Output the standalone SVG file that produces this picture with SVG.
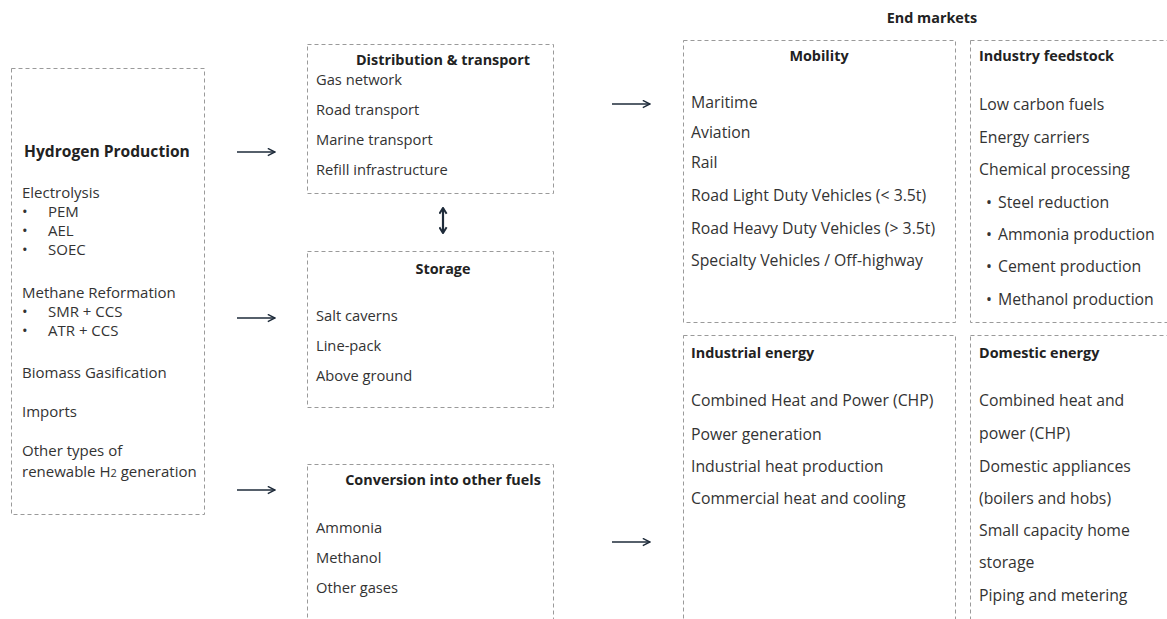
<svg xmlns="http://www.w3.org/2000/svg" width="1167" height="619" viewBox="0 0 1167 619">
<defs>
<style>
.box{fill:none;stroke:#9a9a9a;stroke-width:1;stroke-dasharray:4 3}
text{font-family:"Open Sans","Noto Sans",sans-serif;font-size:14.7px;fill:#333}
.l{font-size:15px}
.r{font-size:15.8px}
.b{font-weight:bold;fill:#222;font-size:14.4px}
.t{font-size:15.6px}
.m{text-anchor:middle}
.c{stroke:#1e2b3a;stroke-width:1.6;fill:none}
.d{stroke:#1e2b3a;stroke-width:2.2;fill:none}
</style>
<marker id="ah" viewBox="0 0 10 10" refX="9" refY="5" markerWidth="9" markerHeight="9" markerUnits="userSpaceOnUse" orient="auto-start-reverse">
<path d="M1,1 L9,5 L1,9" fill="none" stroke="#1e2b3a" stroke-width="1.6"/>
</marker>
<marker id="dh" viewBox="0 0 10 10" refX="8.5" refY="5" markerWidth="9" markerHeight="9" markerUnits="userSpaceOnUse" orient="auto-start-reverse">
<path d="M2,1 L8.5,5 L2,9" fill="none" stroke="#1e2b3a" stroke-width="2.2"/>
</marker>
</defs>
<rect width="1167" height="619" fill="#fff"/>

<g id="production">
<rect class="box" x="11.5" y="68.5" width="193" height="446"/>
<text class="b t" x="24" y="157">Hydrogen Production</text>
<text class="l" x="22" y="198">Electrolysis</text>
<text class="l" x="22" y="217">•</text><text class="l" x="48" y="217">PEM</text>
<text class="l" x="22" y="236">•</text><text class="l" x="48" y="236">AEL</text>
<text class="l" x="22" y="255">•</text><text class="l" x="48" y="255">SOEC</text>
<text class="l" x="22" y="298">Methane Reformation</text>
<text class="l" x="22" y="317">•</text><text class="l" x="48" y="317">SMR + CCS</text>
<text class="l" x="22" y="336">•</text><text class="l" x="48" y="336">ATR + CCS</text>
<text class="l" x="22" y="378">Biomass Gasification</text>
<text class="l" x="22" y="417">Imports</text>
<text class="l" x="22" y="456">Other types of</text>
<text class="l" x="22" y="477">renewable H<tspan font-size="11px">2</tspan> generation</text>
</g>

<g id="distribution">
<rect class="box" x="307.5" y="44.5" width="246" height="149"/>
<text class="b m" x="443" y="65">Distribution &amp; transport</text>
<text x="316" y="85">Gas network</text>
<text x="316" y="115">Road transport</text>
<text x="316" y="145">Marine transport</text>
<text x="316" y="175">Refill infrastructure</text>
</g>

<g id="storage">
<rect class="box" x="307.5" y="251.5" width="246" height="156"/>
<text class="b m" x="443" y="274">Storage</text>
<text x="316" y="321">Salt caverns</text>
<text x="316" y="351">Line-pack</text>
<text x="316" y="381">Above ground</text>
</g>

<g id="conversion">
<rect class="box" x="307.5" y="464.5" width="246" height="170"/>
<text class="b m" x="443" y="485">Conversion into other fuels</text>
<text x="316" y="533">Ammonia</text>
<text x="316" y="563">Methanol</text>
<text x="316" y="593">Other gases</text>
</g>

<g id="end-markets-title">
<text class="b m" x="932" y="23">End markets</text>
</g>

<g id="mobility">
<rect class="box" x="683.5" y="40.5" width="272" height="282"/>
<text class="b m" x="819" y="61">Mobility</text>
<text class="r" x="691" y="108">Maritime</text>
<text class="r" x="691" y="138">Aviation</text>
<text class="r" x="691" y="168">Rail</text>
<text class="r" x="691" y="201">Road Light Duty Vehicles (&lt; 3.5t)</text>
<text class="r" x="691" y="234">Road Heavy Duty Vehicles (&gt; 3.5t)</text>
<text class="r" x="691" y="266">Specialty Vehicles / Off-highway</text>
</g>

<g id="industry-feedstock">
<rect class="box" x="970.5" y="40.5" width="210" height="282"/>
<text class="b" x="979" y="61">Industry feedstock</text>
<text class="r" x="979" y="110">Low carbon fuels</text>
<text class="r" x="979" y="143">Energy carriers</text>
<text class="r" x="979" y="175">Chemical processing</text>
<text class="r" x="986" y="208">•</text><text class="r" x="998" y="208">Steel reduction</text>
<text class="r" x="986" y="240">•</text><text class="r" x="998" y="240">Ammonia production</text>
<text class="r" x="986" y="272">•</text><text class="r" x="998" y="272">Cement production</text>
<text class="r" x="986" y="305">•</text><text class="r" x="998" y="305">Methanol production</text>
</g>

<g id="industrial-energy">
<rect class="box" x="683.5" y="335.5" width="272" height="300"/>
<text class="b" x="691" y="358">Industrial energy</text>
<text class="r" x="691" y="406">Combined Heat and Power (CHP)</text>
<text class="r" x="691" y="440">Power generation</text>
<text class="r" x="691" y="472">Industrial heat production</text>
<text class="r" x="691" y="504">Commercial heat and cooling</text>
</g>

<g id="domestic-energy">
<rect class="box" x="970.5" y="335.5" width="210" height="300"/>
<text class="b" x="979" y="358">Domestic energy</text>
<text class="r" x="979" y="406">Combined heat and</text>
<text class="r" x="979" y="439">power (CHP)</text>
<text class="r" x="979" y="472">Domestic appliances</text>
<text class="r" x="979" y="504">(boilers and hobs)</text>
<text class="r" x="979" y="536">Small capacity home</text>
<text class="r" x="979" y="568">storage</text>
<text class="r" x="979" y="601">Piping and metering</text>
</g>

<g id="connectors">
<line class="c" x1="237" y1="152" x2="275" y2="152" marker-end="url(#ah)"/>
<line class="c" x1="237" y1="318" x2="275" y2="318" marker-end="url(#ah)"/>
<line class="c" x1="237" y1="490" x2="275" y2="490" marker-end="url(#ah)"/>
<line class="c" x1="612" y1="104" x2="650" y2="104" marker-end="url(#ah)"/>
<line class="c" x1="612" y1="542" x2="650" y2="542" marker-end="url(#ah)"/>
<line class="d" x1="443" y1="208" x2="443" y2="233" marker-start="url(#dh)" marker-end="url(#dh)"/>
</g>
</svg>
